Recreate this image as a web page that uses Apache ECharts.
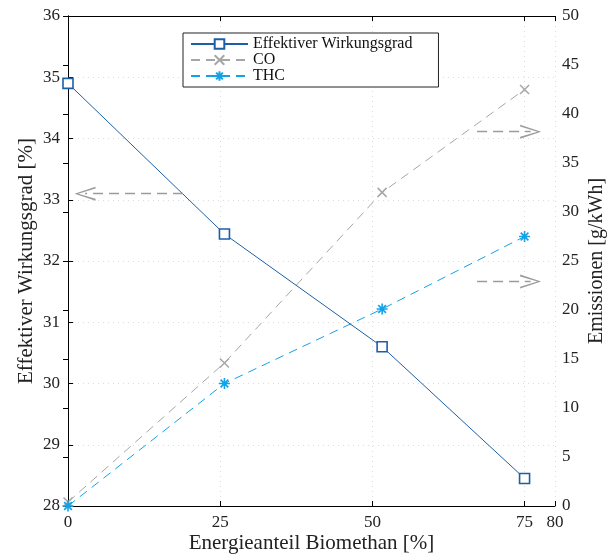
<!DOCTYPE html>
<html><head><meta charset="utf-8">
<script src="https://cdn.jsdelivr.net/npm/echarts@6/dist/echarts.min.js"></script>
<style>html,body{margin:0;padding:0;background:#fff}#c{width:607px;height:559px}</style>
</head><body><div id="c"></div>
<script>
// ---- data ----
const xValues = [0, 25.7, 51.6, 75];
const wirkungsgrad = [34.9, 32.44, 30.6, 28.45];
const co = [0.4, 14.6, 32.0, 42.5];
const thc = [0.0, 12.5, 20.1, 27.5];
const seriesNames = ['Effektiver Wirkungsgrad', 'CO', 'THC'];
const xName = 'Energieanteil Biomethan [%]';
const yLeftName = 'Effektiver Wirkungsgrad [%]';
const yRightName = 'Emissionen [g/kWh]';
// annotation arrows (data coordinates): start x, end x, y
const arrowLeft = [[18.9, 2.8, 33.1]];
const arrowsRight = [[67.2, 76.0, 38.2], [67.2, 76.0, 22.9]];

const FONT = 'Liberation Serif';
const BLUE = '#1d5fa6', GRAY = '#a6a6a6', SKY = '#12a2e8', ARROW = '#9c9c9c';
const chevron = 'path://M7,0 L14,21 L12.2,21 L7,3.8 L1.8,21 L0,21 Z';
const xSym = 'path://M0,0 L10,10 M10,0 L0,10';
const star = 'path://M5,0 L5,10 M0,5 L10,5 M1.5,1.5 L8.5,8.5 M8.5,1.5 L1.5,8.5';

function pts(ys) { return xValues.map((x, i) => [x, ys[i]]); }
function arrowData(list) {
  return list.map(a => [
    { coord: [a[0], a[2]], symbol: 'none' },
    { coord: [a[1], a[2]], symbol: chevron, symbolSize: [14, 21] }
  ]);
}
const arrowLine = (list) => ({
  silent: true, animation: false,
  label: { show: false },
  emphasis: { disabled: true },
  lineStyle: { color: ARROW, type: [10, 6], width: 1.3 },
  data: arrowData(list)
});

const chart = echarts.init(document.getElementById('c'));
chart.setOption({
  animation: false,
  backgroundColor: '#fff',
  textStyle: { fontFamily: FONT },
  grid: { left: 68, right: 52, top: 16, bottom: 53, containLabel: false, outerBoundsMode: 'none' },
  legend: {
    orient: 'vertical', left: 183, top: 33,
    data: seriesNames,
    itemWidth: 57, itemHeight: 12, itemGap: 0,
    padding: [3, 26, 3, 7],
    borderColor: '#222', borderWidth: 1, backgroundColor: '#fff',
    textStyle: { fontFamily: FONT, fontSize: 16, color: '#111' }
  },
  xAxis: [{
    type: 'value', min: 0, max: 80, interval: 25, position: 'bottom',
    name: xName, nameLocation: 'middle', nameGap: 27, nameMoveOverlap: false,
    nameTextStyle: { fontFamily: FONT, fontSize: 21, color: '#222' },
    axisLine: { show: true, lineStyle: { color: '#000', width: 1 } },
    axisTick: { show: true, inside: true, length: 5, lineStyle: { color: '#000' } },
    axisLabel: { fontFamily: FONT, fontSize: 17, color: '#222', margin: 8 },
    splitLine: { show: true, lineStyle: { color: '#dcdcdc', type: [1, 4], width: 1 } }
  }, {
    type: 'value', min: 0, max: 80, interval: 25, position: 'top',
    axisLine: { show: true, lineStyle: { color: '#000', width: 1 } },
    axisTick: { show: true, inside: true, length: 5, lineStyle: { color: '#000' } },
    axisLabel: { show: false }, splitLine: { show: false }
  }],
  yAxis: [{
    type: 'value', min: 28, max: 36, interval: 1, position: 'left',
    name: yLeftName, nameLocation: 'middle', nameGap: 31, nameRotate: 90, nameMoveOverlap: false,
    nameTextStyle: { fontFamily: FONT, fontSize: 21, color: '#222' },
    axisLine: { show: true, lineStyle: { color: '#000', width: 1 } },
    axisTick: { show: true, inside: true, length: 5, lineStyle: { color: '#000' } },
    axisLabel: { fontFamily: FONT, fontSize: 17, color: '#222', margin: 8 },
    splitLine: { show: true, lineStyle: { color: '#dcdcdc', type: [1, 4], width: 1 } }
  }, {
    type: 'value', min: 0, max: 50, interval: 5, position: 'right',
    name: yRightName, nameLocation: 'middle', nameGap: 32, nameRotate: 90, nameMoveOverlap: false,
    nameTextStyle: { fontFamily: FONT, fontSize: 20, color: '#222' },
    axisLine: { show: true, lineStyle: { color: '#000', width: 1 } },
    axisTick: { show: true, inside: true, length: 5, lineStyle: { color: '#000' } },
    axisLabel: { fontFamily: FONT, fontSize: 17, color: '#222', margin: 7 },
    splitLine: { show: false }
  }],
  series: [{
    name: seriesNames[0], type: 'line', xAxisIndex: 0, yAxisIndex: 0,
    data: pts(wirkungsgrad), z: 4,
    symbol: 'rect', symbolSize: 10,
    lineStyle: { color: BLUE, width: 1 },
    itemStyle: { color: '#fff', borderColor: BLUE, borderWidth: 1.6 },
    markLine: arrowLine(arrowLeft)
  }, {
    name: seriesNames[1], type: 'line', xAxisIndex: 0, yAxisIndex: 1,
    data: pts(co), z: 3,
    symbol: xSym, symbolSize: 9,
    lineStyle: { color: GRAY, width: 1, type: [9, 6] },
    itemStyle: { color: GRAY, borderColor: GRAY, borderWidth: 1.5 },
    markLine: arrowLine(arrowsRight)
  }, {
    name: seriesNames[2], type: 'line', xAxisIndex: 0, yAxisIndex: 1,
    data: pts(thc), z: 3,
    symbol: star, symbolSize: 11,
    lineStyle: { color: SKY, width: 1, type: [9, 6] },
    itemStyle: { color: SKY, borderColor: SKY, borderWidth: 1.6 }
  }]
});
</script>
</body></html>
